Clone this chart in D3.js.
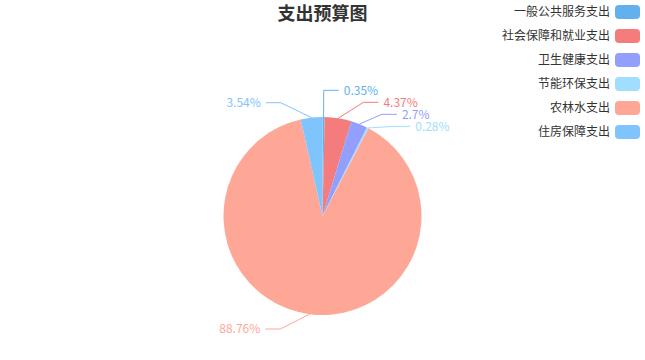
<!DOCTYPE html>
<html>
<head>
<meta charset="utf-8">
<script src="https://cdn.jsdelivr.net/npm/d3@7"></script>
<style>
  body { margin: 0; background: #fff; }
  text { font-family: "Noto Sans CJK SC", "Microsoft YaHei", sans-serif; }
</style>
</head>
<body>
<script>
// chart data
const categories = ['一般公共服务支出', '社会保障和就业支出', '卫生健康支出', '节能环保支出', '农林水支出', '住房保障支出']
const values = [0.35, 4.37, 2.7, 0.28, 88.76, 3.54]
const percentLabels = ['0.35%', '4.37%', '2.7%', '0.28%', '88.76%', '3.54%']
const colors = ['#62b1ee', '#f47c7c', '#939ffd', '#a0defe', '#ffa797', '#7fc4fd']
const title = '支出预算图'

const width = 645
const height = 360
const cx = width * 0.5
const cy = height * 0.6
const radius = Math.min(width, height) / 2 * 0.55
const len1 = 15
const len2 = 15
const labelGap = 5
const labelH = 12

const svg = d3.select('body')
    .append('svg')
    .attr('width', width)
    .attr('height', height)

const colorScale = d3.scaleOrdinal().domain(categories).range(colors)

const pie = d3.pie().sort(null).value(d => d.value)
const arcs = pie(categories.map((c, i) => ({ name: c, value: values[i], label: percentLabels[i] })))
const arc = d3.arc().innerRadius(0).outerRadius(radius)

const g = svg.append('g').attr('transform', `translate(${cx},${cy})`)

g.selectAll('path')
    .data(arcs).enter()
    .append('path')
    .attr('d', arc)
    .attr('fill', d => colorScale(d.data.name))

// label layout, roughly the way echarts 4 does it
const layouts = arcs.map(d => {
    const a = (d.startAngle + d.endAngle) / 2
    const sx = Math.sin(a), sy = -Math.cos(a)
    const dir = sx < 0 ? -1 : 1
    const p0 = [cx + radius * sx, cy + radius * sy]
    const p1 = [cx + (radius + len1) * sx, cy + (radius + len1) * sy]
    const p2 = [p1[0] + dir * len2, p1[1]]
    return { d, dir, p0, p1, p2, x: p2[0] + dir * labelGap, y: p1[1] }
})

function adjustSide(list, dir) {
    list.sort((a, b) => a.y - b.y)
    const top = 0, bottom = height
    function shiftUp(end, delta) {
        for (let j = end; j >= 0; j--) {
            if (list[j].y - delta < top) break
            list[j].y -= delta
            if (j > 0 && list[j].y > list[j - 1].y + labelH) break
        }
    }
    function shiftDown(start, end, delta) {
        for (let j = start; j < end; j++) {
            if (list[j].y + delta > bottom) break
            list[j].y += delta
            if (j > start && j + 1 < end && list[j + 1].y > list[j].y + labelH) {
                shiftUp(j, delta / 2)
                return
            }
        }
        shiftUp(end - 1, delta / 2)
    }
    let lastY = 0
    for (let i = 0; i < list.length; i++) {
        const delta = list[i].y - lastY
        if (delta < 0) shiftDown(i, list.length, -delta)
        lastY = list[i].y + labelH
    }
    function changeX(items, isDown) {
        let last = isDown ? Number.MAX_VALUE : 0
        items.forEach(l => {
            const dy = Math.abs(l.y - cy)
            let dx = dy < radius + len1
                ? Math.sqrt((radius + len1 + len2) ** 2 - dy * dy)
                : Math.abs(l.x - cx)
            if (isDown && dx >= last) dx = last - 10
            if (!isDown && dx <= last) dx = last + 10
            l.x = cx + dx * dir
            last = dx
        })
    }
    changeX(list.filter(l => l.y < cy), false)
    changeX(list.filter(l => l.y >= cy), true)
}

adjustSide(layouts.filter(l => l.dir > 0), 1)
adjustSide(layouts.filter(l => l.dir < 0), -1)

layouts.forEach(l => {
    l.p2 = [l.x - l.dir * labelGap, l.y]
    l.p1 = [l.p2[0] - l.dir * len2, l.y]
})

const line = d3.line()
svg.selectAll('path.label-line')
    .data(layouts).enter()
    .append('path')
    .attr('class', 'label-line')
    .attr('d', l => line([l.p0, l.p1, l.p2]))
    .attr('fill', 'none')
    .attr('stroke', l => colorScale(l.d.data.name))
    .attr('stroke-width', 1)

svg.selectAll('text.pct')
    .data(layouts).enter()
    .append('text')
    .attr('class', 'pct')
    .attr('x', l => l.x)
    .attr('y', l => l.y)
    .attr('dy', '0.35em')
    .attr('text-anchor', l => l.dir > 0 ? 'start' : 'end')
    .attr('font-size', 12)
    .attr('fill', l => colorScale(l.d.data.name))
    .text(l => l.d.data.label)

// title
svg.append('text')
    .attr('x', cx)
    .attr('y', 14)
    .attr('dy', '0.35em')
    .attr('text-anchor', 'middle')
    .attr('font-size', 18)
    .attr('font-weight', 'bold')
    .attr('fill', '#333')
    .text(title)

// legend
const legendY = d3.scaleBand().domain(categories).range([5, 5 + 24 * categories.length])
const legend = svg.append('g')
const items = legend.selectAll('g')
    .data(categories).enter()
    .append('g')
    .attr('transform', c => `translate(615, ${legendY(c)})`)

items.append('rect')
    .attr('width', 25)
    .attr('height', 14)
    .attr('rx', 4)
    .attr('fill', c => colorScale(c))

items.append('text')
    .attr('x', -5)
    .attr('y', 7)
    .attr('dy', '0.35em')
    .attr('text-anchor', 'end')
    .attr('font-size', 12)
    .attr('fill', '#333')
    .text(c => c)
</script>
</body>
</html>
